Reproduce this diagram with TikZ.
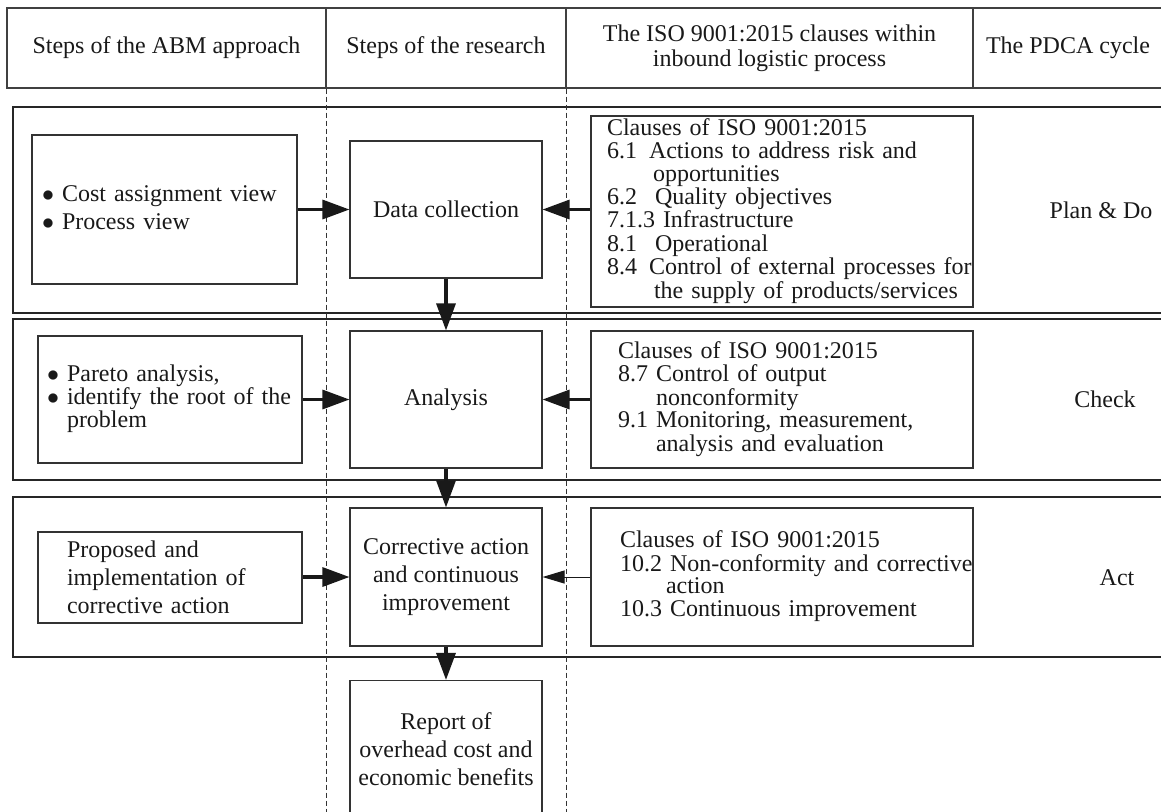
\documentclass[tikz,border=0pt]{standalone}
\usepackage{fontspec}
\setmainfont{Liberation Serif}
\usetikzlibrary{arrows.meta}

\begin{document}
\begin{tikzpicture}[x=0.5pt, y=-0.5pt,
    every node/.style={font=\fontsize{12}{14}\selectfont, text=black!90},
    hcell/.style={draw=black!75, line width=0.6pt, minimum height=40pt, inner sep=0pt, align=center},
    panel/.style={draw=black!85, line width=1.1pt},
    box/.style={draw=black!80, line width=0.55pt, inner ysep=0pt, align=left},
    stepbox/.style={draw=black!80, line width=0.55pt, minimum width=96pt, minimum height=68.5pt, inner sep=0pt, align=center},
    tight/.style={font=\fontsize{12}{11}\selectfont},
    guide/.style={draw=black!80, line width=0.5pt, dash pattern=on 2.5pt off 1.5pt},
    arr/.style={line width=1.6pt, black!90, -{Triangle[length=13.5pt, width=9.5pt]}},
    thinarr/.style={line width=0.5pt, black!90, -{Triangle[length=11pt, width=6.5pt]}}]

    \useasboundingbox (0,0) rectangle (1161,811);
    \clip (0,0) rectangle (1161,811);

    \node[hcell, minimum width=159.5pt] (h1) at (166.5,48) {Steps of the ABM approach};
    \node[hcell, minimum width=120pt] (h2) at (446,48) {Steps of the research};
    \node[hcell, minimum width=203.5pt, font=\fontsize{12}{12.5}\selectfont] (h3) at (769.5,48) {The ISO 9001:2015 clauses within\\inbound logistic process};
    \node[hcell, minimum width=95pt] (h4) at (1068,48) {The PDCA cycle};

    \draw[panel] (13,107) rectangle (1170,313);
    \draw[panel] (13,319) rectangle (1170,480);
    \draw[panel] (13,497) rectangle (1170,657);

    \draw[guide] (h1.south east) -- ++(0,740);
    \draw[guide] (h2.south east) -- ++(0,740);

    \node[box, minimum width=132.5pt, minimum height=74.5pt, text width=122.5pt, inner xsep=5pt] (a1) at (164.5,209.5) {\begin{tabular}{@{}l@{\hspace{4pt}}l@{}}
        $\bullet$ & Cost assignment view\\
        $\bullet$ & Process view
    \end{tabular}};
    \node[box, tight, minimum width=132pt, minimum height=63.5pt, text width=123pt, inner xsep=4.5pt] (a2) at (170,399.5) {\begin{tabular}{@{}l@{\hspace{4pt}}l@{}}
        $\bullet$ & Pareto analysis,\\
        $\bullet$ & identify the root of the\\
        & problem
    \end{tabular}};
    \node[box, minimum width=132pt, minimum height=45.5pt, text width=103pt, inner xsep=14.5pt] (a3) at (170,577.5) {Proposed and\\implementation of\\corrective action};

    \node[stepbox] (r1) at (446,209.5) {Data collection};
    \node[stepbox] (r2) at (446,399.5) {Analysis};
    \node[stepbox, minimum height=69pt] (r3) at (446,577) {Corrective action\\and continuous\\improvement};
    \node[stepbox] (r4) at (446,749) {Report of\\overhead cost and\\economic benefits};

    \node[box, tight, minimum width=191pt, minimum height=95.5pt, text width=175pt, inner xsep=8pt] (c1) at (782,211.5) {\begin{tabular}{@{}l@{}}
        Clauses of ISO 9001:2015\\
        \makebox[21pt][l]{6.1}Actions to address risk and\\
        \hspace*{23pt}opportunities\\
        \makebox[24pt][l]{6.2}Quality objectives\\
        7.1.3 Infrastructure\\
        \makebox[24pt][l]{8.1}Operational\\
        \makebox[21pt][l]{8.4}Control of external processes for\\
        \hspace*{23.5pt}the supply of products/services
    \end{tabular}};
    \node[box, tight, minimum width=191pt, minimum height=68.5pt, text width=164pt, inner xsep=13.5pt] (c2) at (782,399.5) {\begin{tabular}{@{}l@{}}
        Clauses of ISO 9001:2015\\
        8.7 Control of output\\
        \hspace*{19pt}nonconformity\\
        9.1 Monitoring, measurement,\\
        \hspace*{19pt}analysis and evaluation
    \end{tabular}};
    \node[box, tight, minimum width=191pt, minimum height=69pt, text width=162pt, inner xsep=14.5pt] (c3) at (782,577) {\begin{tabular}{@{}l@{}}
        Clauses of ISO 9001:2015\\
        10.2 Non-conformity and corrective\\
        \hspace*{23pt}action\\
        10.3 Continuous improvement
    \end{tabular}};

    \node (p1) at (1101,210) {Plan \& Do};
    \node (p2) at (1105,399.5) {Check};
    \node (p3) at (1117,577.5) {Act};

    \draw[arr] (a1) -- (r1);
    \draw[arr] (c1.west |- r1) -- (r1);
    \draw[arr] (r1) -- (r2);
    \draw[arr] (a2) -- (r2);
    \draw[arr] (c2) -- (r2);
    \draw[arr] (r2) -- (r3);
    \draw[arr] (a3.east |- r3) -- (r3);
    \draw[thinarr] (c3) -- (r3);
    \draw[arr] (r3) -- (r4);
\end{tikzpicture}
\end{document}
